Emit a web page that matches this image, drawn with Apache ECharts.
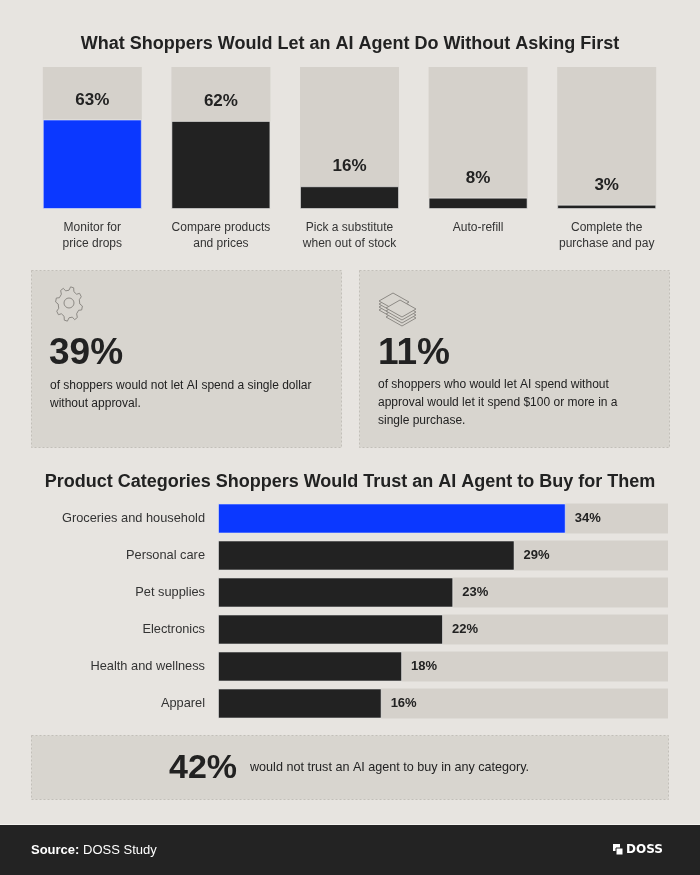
<!DOCTYPE html>
<html>
<head>
<meta charset="utf-8">
<script src="https://cdn.jsdelivr.net/npm/echarts@6/dist/echarts.min.js"></script>
<style>
  html, body { margin: 0; padding: 0; background: #e7e4e0; }
  #main { width: 700px; height: 875px; }
</style>
</head>
<body>
<div id="main"></div>
<script>
// top chart: actions shoppers would allow without asking
const actionLabels = ['Monitor for\nprice drops', 'Compare products\nand prices', 'Pick a substitute\nwhen out of stock', 'Auto-refill', 'Complete the\npurchase and pay']
const actionValues = [63, 62, 16, 8, 3]

// bottom chart: categories shoppers would trust an agent with
const categoryLabels = ['Groceries and household', 'Personal care', 'Pet supplies', 'Electronics', 'Health and wellness', 'Apparel']
const categoryValues = [34, 29, 23, 22, 18, 16]

const BLUE = '#0b38ff'
const DARK = '#222222'
const TRACK = '#d5d1cb'
const CARD = '#d8d5cf'
const FONT = '"Liberation Sans", Arial, sans-serif'

const chart = echarts.init(document.getElementById('main'))

// small gear outline for the first card (decoration only)
function gearPoints(cx, cy, rOut, rIn, teeth) {
    const pts = []
    const step = Math.PI * 2 / teeth
    for (let i = 0; i < teeth; i++) {
        const a = i * step
        ;[[rIn, a], [rOut, a + step * 0.15], [rOut, a + step * 0.45], [rIn, a + step * 0.6]].forEach(([r, t]) => {
            pts.push([cx + r * Math.cos(t) * 0.9, cy + r * Math.sin(t) * 1.15])
        })
    }
    return pts
}

function cardText(x, y, text, size, weight, lh) {
    return {
        type: 'text', left: x, top: y, silent: true,
        style: { text, fill: DARK, fontSize: size, fontWeight: weight, fontFamily: FONT, lineHeight: lh }
    }
}

function moneyStack(x, y) {
    // stacked bills drawn as skewed boxes
    const els = []
    for (let i = 3; i >= 0; i--) {
        els.push({
            type: 'polygon', silent: true,
            shape: { points: [[x, y + i * 3], [x + 14, y - 8 + i * 3], [x + 30, y + 1 + i * 3], [x + 16, y + 9 + i * 3]] },
            style: { fill: CARD, stroke: '#8d8a85', lineWidth: 1 }
        })
    }
    return els
}

const option = {
    backgroundColor: '#e7e4e0',
    textStyle: { fontFamily: FONT },
    title: [
        {
            text: 'What Shoppers Would Let an AI Agent Do Without Asking First',
            left: 'center', top: 30,
            textStyle: { fontSize: 18, fontWeight: 'bold', color: DARK, fontFamily: FONT }
        },
        {
            text: 'Product Categories Shoppers Would Trust an AI Agent to Buy for Them',
            left: 'center', top: 468,
            textStyle: { fontSize: 18, fontWeight: 'bold', color: DARK, fontFamily: FONT }
        }
    ],
    grid: [
        { left: 28, width: 643, top: 67, height: 142 },
        { left: 218, width: 450, top: 500, height: 222 }
    ],
    xAxis: [
        {
            gridIndex: 0, type: 'category', data: actionLabels,
            axisLine: { show: false }, axisTick: { show: false },
            axisLabel: { interval: 0, margin: 11, color: '#333', fontSize: 12, lineHeight: 16, fontFamily: FONT }
        },
        {
            gridIndex: 1, type: 'value', min: 0, max: 44, show: false, splitLine: { show: false }
        }
    ],
    yAxis: [
        { gridIndex: 0, type: 'value', min: 0, max: 100, show: false, splitLine: { show: false } },
        {
            gridIndex: 1, type: 'category', inverse: true, data: categoryLabels,
            axisLine: { show: false }, axisTick: { show: false },
            axisLabel: { margin: 13, color: '#333', fontSize: 12.8, fontFamily: FONT }
        }
    ],
    series: [
        {
            type: 'bar', xAxisIndex: 0, yAxisIndex: 0, barWidth: 99,
            data: actionValues.map((v, i) => ({ value: v, itemStyle: { color: i === 0 ? BLUE : DARK } })),
            showBackground: true,
            backgroundStyle: { color: TRACK },
            itemStyle: { borderColor: 'rgba(255,255,255,0.5)', borderWidth: 1 },
            label: {
                show: true, position: 'top', distance: 11,
                formatter: '{c}%', color: DARK, fontSize: 17, fontWeight: 'bold', fontFamily: FONT
            },
            silent: true
        },
        {
            type: 'bar', xAxisIndex: 1, yAxisIndex: 1, barWidth: 30,
            data: categoryValues.map((v, i) => ({ value: v, itemStyle: { color: i === 0 ? BLUE : DARK } })),
            showBackground: true,
            backgroundStyle: { color: TRACK },
            itemStyle: { borderColor: 'rgba(255,255,255,0.5)', borderWidth: 1 },
            label: {
                show: true, position: 'right', distance: 9,
                formatter: '{c}%', color: DARK, fontSize: 13, fontWeight: 'bold', fontFamily: FONT
            },
            silent: true
        }
    ],
    graphic: [
        // stat cards
        { type: 'rect', silent: true, shape: { x: 31.5, y: 270.5, width: 310, height: 177 },
          style: { fill: CARD, stroke: '#c2bfb9', lineWidth: 1, lineDash: [2, 2] } },
        { type: 'rect', silent: true, shape: { x: 359.5, y: 270.5, width: 310, height: 177 },
          style: { fill: CARD, stroke: '#c2bfb9', lineWidth: 1, lineDash: [2, 2] } },
        { type: 'polygon', silent: true, shape: { points: gearPoints(69, 304, 15, 12, 8) },
          style: { fill: 'none', stroke: '#8d8a85', lineWidth: 1 } },
        { type: 'circle', silent: true, shape: { cx: 69, cy: 303, r: 5 },
          style: { fill: 'none', stroke: '#8d8a85', lineWidth: 1 } },
        ...moneyStack(379, 301),
        ...moneyStack(386, 308),
        cardText(49, 335, '39%', 37, 'bold'),
        cardText(50, 377, 'of shoppers would not let AI spend a single dollar\nwithout approval.', 12, 'normal', 18),
        cardText(378, 335, '11%', 37, 'bold'),
        cardText(378, 376, 'of shoppers who would let AI spend without\napproval would let it spend $100 or more in a\nsingle purchase.', 12, 'normal', 18),

        // bottom note card
        { type: 'rect', silent: true, shape: { x: 31.5, y: 735.5, width: 637, height: 64 },
          style: { fill: CARD, stroke: '#c2bfb9', lineWidth: 1, lineDash: [2, 2] } },
        cardText(169, 752, '42%', 34, 'bold'),
        cardText(250, 761, 'would not trust an AI agent to buy in any category.', 12.6, 'normal'),

        // footer
        { type: 'rect', silent: true, shape: { x: 0, y: 825, width: 700, height: 50 }, style: { fill: '#232323' } },
        { type: 'rect', silent: true, shape: { x: 0, y: 824, width: 700, height: 1 }, style: { fill: '#f4f2ef' } },
        {
            type: 'text', left: 31, top: 844, silent: true,
            style: {
                text: '{b|Source:} DOSS Study',
                fill: '#ffffff', fontSize: 13, fontFamily: FONT,
                rich: { b: { fontWeight: 'bold', fontSize: 13, fill: '#ffffff', fontFamily: FONT } }
            }
        },
        { type: 'rect', silent: true, shape: { x: 613, y: 844, width: 7, height: 7 }, style: { fill: '#ffffff' } },
        { type: 'rect', silent: true, shape: { x: 616, y: 848, width: 7, height: 7 }, style: { fill: '#ffffff', stroke: '#232323', lineWidth: 1 } },
        {
            type: 'text', left: 626, top: 844, silent: true,
            style: { text: 'DOSS', fill: '#ffffff', fontSize: 12, fontWeight: 'bold', fontFamily: '"DejaVu Sans", sans-serif' }
        }
    ]
}

chart.setOption(option)
</script>
</body>
</html>
